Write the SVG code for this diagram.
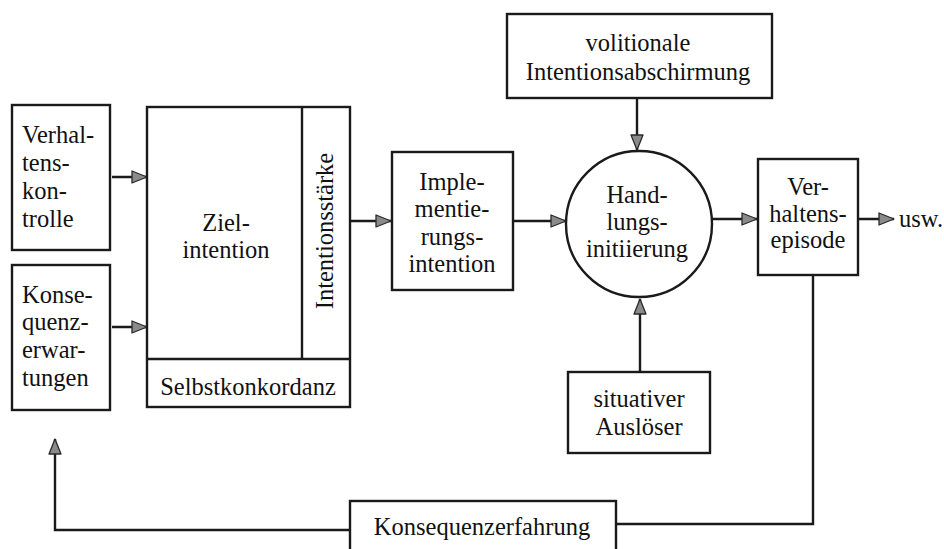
<svg xmlns="http://www.w3.org/2000/svg" width="944" height="549" viewBox="0 0 944 549">
<defs>
<style>
.box{fill:#fff;stroke:#1a1a1a;stroke-width:2.4}
.ln{fill:none;stroke:#1a1a1a;stroke-width:2.4}
.t{font-family:"Liberation Serif","Times New Roman",serif;font-size:24.5px;fill:#111}
.c{text-anchor:middle}
.arr{fill:none;stroke:#1a1a1a;stroke-width:2.4;marker-end:url(#ah)}
</style>
<marker id="ah" markerUnits="userSpaceOnUse" viewBox="0 0 17 14" refX="16" refY="7" markerWidth="17" markerHeight="14" orient="auto">
<path d="M1,1 L16,7 L1,13 Z" fill="#8a8a8a" stroke="#2a2a2a" stroke-width="1.3" stroke-linejoin="round"/>
</marker>
</defs>
<rect width="944" height="549" fill="#fff"/>

<g id="connectors">
<line class="arr" x1="112" y1="177" x2="147" y2="177"/>
<line class="arr" x1="112" y1="327" x2="147" y2="327"/>
<line class="arr" x1="350" y1="221" x2="391" y2="221"/>
<line class="arr" x1="513" y1="221" x2="566" y2="221"/>
<line class="arr" x1="637" y1="98" x2="637" y2="150"/>
<line class="arr" x1="640" y1="372" x2="640" y2="299"/>
<line class="arr" x1="712" y1="219" x2="757" y2="219"/>
<line class="arr" x1="858" y1="219" x2="894" y2="219"/>
<polyline class="ln" points="813,275 813,524 616,524"/>
<polyline class="arr" points="350,530 55,530 55,439"/>
</g>

<g id="verhaltenskontrolle">
<rect class="box" x="12" y="105" width="98" height="145"/>
<text class="t" x="22" y="143">Verhal-</text>
<text class="t" x="22" y="171">tens-</text>
<text class="t" x="22" y="199">kon-</text>
<text class="t" x="22" y="227">trolle</text>
</g>

<g id="konsequenzerwartungen">
<rect class="box" x="12" y="265" width="98" height="145"/>
<text class="t" x="22" y="303">Konse-</text>
<text class="t" x="22" y="330">quenz-</text>
<text class="t" x="22" y="358">erwar-</text>
<text class="t" x="22" y="386">tungen</text>
</g>

<g id="zielintention">
<rect class="box" x="147" y="107" width="203" height="300"/>
<line class="ln" x1="302" y1="107" x2="302" y2="359"/>
<line class="ln" x1="147" y1="359" x2="350" y2="359"/>
<text class="t c" x="226" y="231">Ziel-</text>
<text class="t c" x="226" y="258">intention</text>
<text class="t c" transform="rotate(-90 333 231)" x="333" y="231">Intentionsstärke</text>
<text class="t c" x="248" y="395">Selbstkonkordanz</text>
</g>

<g id="implementierungsintention">
<rect class="box" x="392" y="152" width="121" height="138"/>
<text class="t c" x="452" y="190">Imple-</text>
<text class="t c" x="452" y="217">mentie-</text>
<text class="t c" x="452" y="245">rungs-</text>
<text class="t c" x="452" y="272">intention</text>
</g>

<g id="volitionale">
<rect class="box" x="507" y="14" width="265" height="84"/>
<text class="t c" x="638" y="51">volitionale</text>
<text class="t c" x="638" y="80">Intentionsabschirmung</text>
</g>

<g id="handlungsinitiierung">
<circle class="box" cx="639" cy="224" r="73"/>
<text class="t c" x="637" y="203">Hand-</text>
<text class="t c" x="637" y="230">lungs-</text>
<text class="t c" x="637" y="257">initiierung</text>
</g>

<g id="situativer">
<rect class="box" x="568" y="372" width="142" height="81"/>
<text class="t c" x="639" y="407">situativer</text>
<text class="t c" x="639" y="435">Auslöser</text>
</g>

<g id="verhaltensepisode">
<rect class="box" x="758" y="159" width="100" height="116"/>
<text class="t c" x="808" y="195">Ver-</text>
<text class="t c" x="808" y="222">haltens-</text>
<text class="t c" x="808" y="248">episode</text>
</g>

<g id="usw">
<text class="t" x="899" y="227">usw.</text>
</g>

<g id="konsequenzerfahrung">
<rect class="box" x="350" y="501" width="266" height="60"/>
<text class="t c" x="482" y="535">Konsequenzerfahrung</text>
</g>
</svg>
